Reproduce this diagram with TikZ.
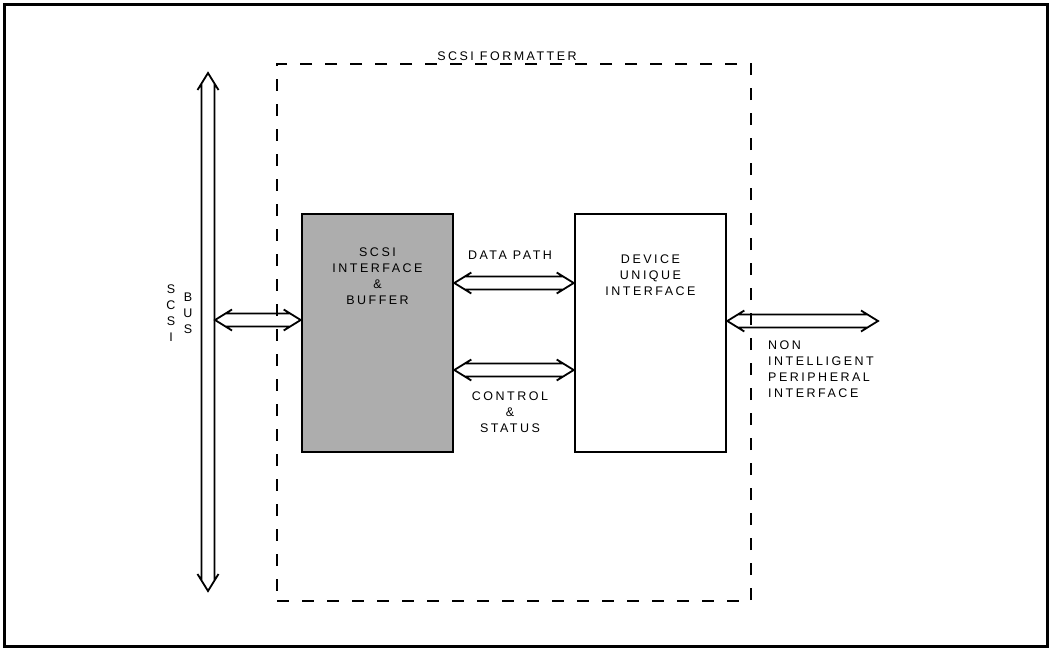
\documentclass[tikz,border=0pt]{standalone}
\usepackage{fontspec}
\newfontfamily\lblfont[LetterSpace=20]{Liberation Sans}
\usetikzlibrary{arrows.meta, positioning, calc}

\begin{document}
\begin{tikzpicture}[x=1pt, y=-1pt,
    unit/.style={rectangle, draw, line width=2.6pt, minimum width=151pt, minimum height=238pt},
    fmtbox/.style={rectangle, draw, line width=1.8pt, dash pattern=on 12pt off 13pt, minimum width=474pt, minimum height=537pt},
    lbl/.style={align=center, inner sep=1pt, font=\lblfont\fontsize{12.5}{16}\selectfont},
    % hollow two-line bus with open chevron heads at both ends
    busline/.style={line width=1.8pt, line join=miter, to path={
      let \p1=(\tikztostart), \p2=(\tikztotarget),
          \n1={atan2(\y2-\y1,\x2-\x1)}, \n2={veclen(\x2-\x1,\y2-\y1)} in
      ([shift={(\p1)},rotate=\n1]17pt,10.5pt) -- (\p1) -- ([shift={(\p1)},rotate=\n1]17pt,-10.5pt)
      ([shift={(\p1)},rotate=\n1]{\n2*1pt-17pt},10.5pt) -- (\p2) -- ([shift={(\p1)},rotate=\n1]{\n2*1pt-17pt},-10.5pt)
      ([shift={(\p1)},rotate=\n1]10.6pt,6.5pt) -- ([shift={(\p1)},rotate=\n1]{\n2*1pt-10.6pt},6.5pt)
      ([shift={(\p1)},rotate=\n1]10.6pt,-6.5pt) -- ([shift={(\p1)},rotate=\n1]{\n2*1pt-10.6pt},-6.5pt)
      (\p2)}}
]
\useasboundingbox (0,0) rectangle (1051,653);
\draw[line width=3pt] (4,4) rectangle (1047,646);

% formatter outline and its two units
\node[fmtbox] (fmt) at (514,332.5) {};
\node[lbl, above=1pt of fmt.north, xshift=-7pt] (fmttitle) {SCSI FORMATTER};
\node[unit, fill=black!32] (scsi) at (377.5,333) {};
\node[unit] (dev) at (650.5,333) {};
\node[lbl, below=34pt of scsi.north] (scsitxt) {SCSI\\INTERFACE\\\&\\BUFFER};
\node[lbl, below=41pt of dev.north] (devtxt) {DEVICE\\UNIQUE\\INTERFACE};

% scsi bus
\coordinate (bustop) at (208,73);
\coordinate (busbot) at (208,591);
\coordinate (busport) at (215,320);
\draw[busline] (bustop) to (busbot);
\node[lbl] (buslblA) at (171,313.5) {S\\C\\S\\I};
\node[lbl] (buslblB) at (188,313) {B\\U\\S};
\draw[busline] (busport) to (busport -| scsi.west);

% paths between the units
\draw[busline] ([yshift=50pt]scsi.east) to ([yshift=50pt]scsi.east -| dev.west);
\draw[busline] ([yshift=-37pt]scsi.east) to ([yshift=-37pt]scsi.east -| dev.west);
\node[lbl] (dplbl) at (510,255) {DATA PATH};
\node[lbl] (cslbl) at (510,412) {CONTROL\\\&\\STATUS};

% peripheral side
\coordinate (niptip) at (878,321);
\draw[busline] (niptip -| dev.east) to (niptip);
\node[lbl, align=left, anchor=west] (niplbl) at (767,369.5) {NON\\INTELLIGENT\\PERIPHERAL\\INTERFACE};

\end{tikzpicture}
\end{document}
